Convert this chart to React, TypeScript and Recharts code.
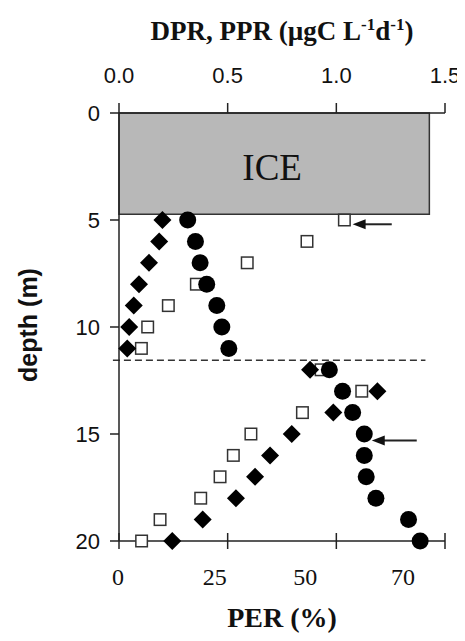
import React from "react";
import { ScatterChart, Scatter, XAxis, YAxis, ReferenceArea, ReferenceLine } from "recharts";

// depth of each sample (m)
const DEPTHS = [5, 6, 7, 8, 9, 10, 11, 12, 13, 14, 15, 16, 17, 18, 19, 20];
// DPR (µgC L-1 d-1) – filled diamonds
const DPR = [0.2, 0.185, 0.138, 0.092, 0.068, 0.047, 0.038, 0.879, 1.189, 0.986, 0.795, 0.695, 0.626, 0.538, 0.385, 0.245];
// PPR (µgC L-1 d-1) – open squares
const PPR = [1.037, 0.865, 0.59, 0.356, 0.227, 0.132, 0.103, 0.93, 1.117, 0.844, 0.607, 0.526, 0.465, 0.376, 0.189, 0.104];
// PER (%) – filled circles
const PER = [17.7, 19.7, 20.9, 22.6, 25.2, 26.5, 28.3, 54.2, 57.6, 60.2, 63.2, 63.2, 63.7, 66.2, 74.6, 77.6];

const TOP_TICKS = [0, 0.5, 1.0, 1.5];
const PER_TICKS = [0, 28, 56, 84];
const PER_TICK_LABELS = ["0", "25", "50", "70"];
const PER_LABEL_SHIFT = [-1, -13, -31, -42];
const DEPTH_TICKS = [0, 5, 10, 15, 20];

const ICE_DEPTH = 4.73;
const ICE_EXTENT = 1.428;
const MIXED_DEPTH = 11.55;
const ARROWS = [
  { depth: 5.2, from: 1.255, to: 1.075 },
  { depth: 15.3, from: 1.37, to: 1.163 },
];

const dprData = DEPTHS.map((d, i) => ({ x: DPR[i], depth: d }));
const pprData = DEPTHS.map((d, i) => ({ x: PPR[i], depth: d }));
const perData = DEPTHS.map((d, i) => ({ x: PER[i], depth: d }));

const SANS = "'Liberation Sans', Arial, sans-serif";
const SERIF = "'Liberation Serif', 'Times New Roman', serif";
const AX = "#222";

const Circle = (p: any) => <circle cx={p.cx} cy={p.cy} r={8.5} fill="#000" />;
const Diamond = (p: any) => (
  <polygon
    points={`${p.cx},${p.cy - 9} ${p.cx + 9},${p.cy} ${p.cx},${p.cy + 9} ${p.cx - 9},${p.cy}`}
    fill="#000"
  />
);
const Square = (p: any) => (
  <rect x={p.cx - 5.75} y={p.cy - 5.75} width={11.5} height={11.5} fill="#fff" stroke="#333" strokeWidth={1.5} />
);

const PerTick = (p: any) => {
  const { x, y, index } = p;
  return (
    <g>
      <line x1={x} x2={x} y1={y - 8} y2={y + 8} stroke={AX} strokeWidth={1.5} />
      <text x={x + PER_LABEL_SHIFT[index]} y={y + 44} textAnchor="middle" fontFamily={SERIF} fontSize={24} fill="#111">
        {PER_TICK_LABELS[index]}
      </text>
    </g>
  );
};

const TopTitle = (p: any) => {
  const vb = p.viewBox;
  return (
    <text x={vb.x + vb.width / 2} y={32} textAnchor="middle" fontFamily={SERIF} fontWeight="bold" fontSize={27} fill="#111">
      <tspan>DPR, PPR (µgC L</tspan>
      <tspan dy={-10} fontSize={17}>-1</tspan>
      <tspan dy={10}>d</tspan>
      <tspan dy={-10} fontSize={17}>-1</tspan>
      <tspan dy={10}>)</tspan>
    </text>
  );
};

const BottomTitle = (p: any) => {
  const vb = p.viewBox;
  return (
    <text x={vb.x + vb.width / 2} y={vb.y + 86} textAnchor="middle" fontFamily={SERIF} fontWeight="bold" fontSize={28} fill="#111">
      PER (%)
    </text>
  );
};

const YTitle = (p: any) => {
  const vb = p.viewBox;
  const cx = 20;
  const cy = vb.y + vb.height / 2 - 2;
  return (
    <text
      x={cx}
      y={cy}
      transform={`rotate(-90, ${cx}, ${cy})`}
      textAnchor="middle"
      dominantBaseline="central"
      fontFamily={SANS}
      fontWeight="bold"
      fontSize={25}
      fill="#111"
    >
      depth (m)
    </text>
  );
};

const IceLabel = (p: any) => {
  const vb = p.viewBox;
  return (
    <text x={vb.x + vb.width / 2 - 2} y={vb.y + vb.height / 2 + 16} textAnchor="middle" fontFamily={SERIF} fontSize={37} fill="#111">
      ICE
    </text>
  );
};

const Arrow = (p: any) => {
  const { x1, y1, x2, y2 } = p;
  return (
    <g>
      <line x1={x1} y1={y1} x2={x2 + 10} y2={y2} stroke="#222" strokeWidth={2} />
      <polygon points={`${x2},${y2} ${x2 + 13},${y2 - 5} ${x2 + 13},${y2 + 5}`} fill="#111" />
    </g>
  );
};

export default function App() {
  return (
    <ScatterChart width={457} height={633} margin={{ top: 0, right: 20, bottom: 0, left: 0 }}>
      <XAxis
        xAxisId="top"
        orientation="top"
        type="number"
        dataKey="x"
        domain={[0, 1.5]}
        ticks={TOP_TICKS}
        interval={0}
        tickFormatter={(v: number) => v.toFixed(1)}
        height={105}
        tickSize={10}
        tickMargin={20}
        stroke={AX}
        strokeWidth={1.5}
        tick={{ fontSize: 22, fontFamily: SANS, fill: "#111" }}
        label={{ content: TopTitle }}
      />
      <XAxis
        xAxisId="per"
        orientation="bottom"
        type="number"
        dataKey="x"
        domain={[0, 84]}
        ticks={PER_TICKS}
        interval={0}
        height={100}
        tickSize={0}
        tickMargin={0}
        tickLine={false}
        stroke={AX}
        strokeWidth={1.5}
        tick={(p: any) => <PerTick {...p} />}
        label={{ content: BottomTitle }}
      />
      <YAxis
        type="number"
        dataKey="depth"
        domain={[0, 20]}
        reversed
        ticks={DEPTH_TICKS}
        interval={0}
        width={111}
        tickSize={9}
        tickMargin={10}
        stroke={AX}
        strokeWidth={1.5}
        tick={{ fontSize: 22, fontFamily: SANS, fill: "#111" }}
        label={{ content: YTitle }}
      />
      <ReferenceArea
        xAxisId="top"
        x1={0}
        x2={ICE_EXTENT}
        y1={0}
        y2={ICE_DEPTH}
        fill="#b8b8b8"
        fillOpacity={1}
        stroke="#333"
        strokeWidth={1.5}
        label={{ content: IceLabel }}
      />
      <ReferenceLine
        xAxisId="top"
        segment={[{ x: -0.028, y: MIXED_DEPTH }, { x: 1.41, y: MIXED_DEPTH }]}
        ifOverflow="visible"
        stroke="#333"
        strokeWidth={1.5}
        strokeDasharray="7 4"
      />
      {ARROWS.map((a, i) => (
        <ReferenceLine
          key={i}
          xAxisId="top"
          segment={[{ x: a.from, y: a.depth }, { x: a.to, y: a.depth }]}
          ifOverflow="visible"
          shape={Arrow}
        />
      ))}
      <Scatter xAxisId="top" data={pprData} shape={Square} isAnimationActive={false} />
      <Scatter xAxisId="top" data={dprData} shape={Diamond} isAnimationActive={false} />
      <Scatter xAxisId="per" data={perData} shape={Circle} isAnimationActive={false} />
    </ScatterChart>
  );
}
